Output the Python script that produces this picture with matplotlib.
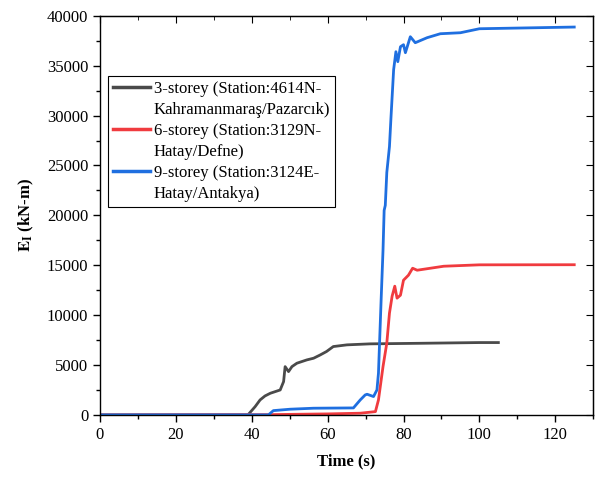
import matplotlib
matplotlib.use('Agg')
import matplotlib.pyplot as plt
from matplotlib.lines import Line2D
from matplotlib.ticker import MultipleLocator

plt.rcParams.update({'font.family': 'Liberation Serif', 'font.size': 12,
                     'mathtext.fontset': 'stix'})

GRAY = '#4A4A4A'; RED = '#F03B3F'; BLUE = '#1F6FE0'

# 3-storey (Station:4614N)
t3 = [0, 39, 40.9, 42.2, 43.5, 44.9, 47.5, 48.4, 48.8, 49.7, 50.6, 51.9, 54.5, 56.3,
      58, 59.7, 61.5, 65.1, 71.2, 85, 100, 105]
e3 = [0, 0, 830, 1500, 1900, 2170, 2500, 3340, 4840, 4340, 4840, 5180, 5510, 5680,
      6000, 6350, 6850, 7020, 7120, 7180, 7250, 7250]

# 6-storey (Station:3129N)
t6 = [0, 45, 60, 68.6, 72.6, 73.4, 74.6, 75.6, 76.3, 77.0, 77.7, 78.3, 79.2, 80.0,
      81.3, 82.4, 83.6, 90.6, 100, 125]
e6 = [0, 30, 100, 170, 330, 1500, 4840, 7200, 10200, 11900, 12900, 11700, 12000, 13500,
      14000, 14700, 14500, 14900, 15040, 15050]

# 9-storey (Station:3124E)
t9 = [0, 44.4, 45.7, 50.1, 56.3, 66.8, 68.6, 69.9, 70.4, 72.1, 73.0, 73.4, 74.1, 74.6,
      74.9, 75.2, 75.6, 76.3, 76.7, 77.4, 78.0, 78.5, 79.2, 80.0, 80.5, 81.8, 83.1, 86.2,
      89.7, 95, 100, 125]
e9 = [0, 0, 430, 570, 670, 700, 1500, 2000, 2070, 1840, 2500, 4180, 11500, 16500,
      20500, 21000, 24300, 26900, 29800, 34600, 36400, 35400, 36900, 37100, 36300, 37900,
      37300, 37800, 38200, 38300, 38700, 38870]

labels = [('3-storey (Station:4614N-', 'Kahramanmaraş/Pazarcık)'),
          ('6-storey (Station:3129N-', 'Hatay/Defne)'),
          ('9-storey (Station:3124E-', 'Hatay/Antakya)')]
colors = [GRAY, RED, BLUE]

fig = plt.figure(figsize=(5.95, 4.78), dpi=100)
ax = fig.add_axes([0.168, 0.132, 0.829, 0.835])
ax.plot(t3, e3, color=GRAY, lw=2)
ax.plot(t6, e6, color=RED, lw=2)
ax.plot(t9, e9, color=BLUE, lw=2)

ax.set_xlim(0, 130); ax.set_ylim(0, 40000)
ax.xaxis.set_major_locator(MultipleLocator(20)); ax.xaxis.set_minor_locator(MultipleLocator(10))
ax.yaxis.set_major_locator(MultipleLocator(5000)); ax.yaxis.set_minor_locator(MultipleLocator(2500))
ax.tick_params(which='both', direction='out', width=1, labelsize=12)
ax.tick_params(which='major', length=5); ax.tick_params(which='minor', length=3)
# mirrored ticks on top/right, pointing inward
for side, axis in (('top', ax.secondary_xaxis('top')), ('right', ax.secondary_yaxis('right'))):
    a = axis.xaxis if side == 'top' else axis.yaxis
    if side == 'top':
        a.set_major_locator(MultipleLocator(20)); a.set_minor_locator(MultipleLocator(10))
    else:
        a.set_major_locator(MultipleLocator(5000)); a.set_minor_locator(MultipleLocator(2500))
    axis.tick_params(which='both', direction='in', labelleft=False, labelright=False,
                     labeltop=False, labelbottom=False)
    axis.tick_params(which='major', length=5); axis.tick_params(which='minor', length=3)
for s in ax.spines.values(): s.set_linewidth(1)

ax.set_xlabel('Time (s)', fontweight='bold', fontsize=12, labelpad=8)
ax.set_ylabel(r'$\mathbf{E_{I}}$ (kN-m)', fontweight='bold', fontsize=12, labelpad=8)

# legend: handle sits on the first line of each two-line label
handles, texts = [], []
for c, (l1, l2) in zip(colors, labels):
    handles += [Line2D([], [], color=c, lw=2.5), Line2D([], [], color='none')]
    texts += [l1, l2]
leg = ax.legend(handles, texts, loc='upper left', bbox_to_anchor=(0.016, 0.85), borderaxespad=0,
                fancybox=False, framealpha=1, edgecolor='black', fontsize=12,
                handlelength=2.2, handletextpad=0.25, labelspacing=0.3, borderpad=0.3)
leg.get_frame().set_linewidth(0.8)

fig.savefig('out.png', dpi=100)
